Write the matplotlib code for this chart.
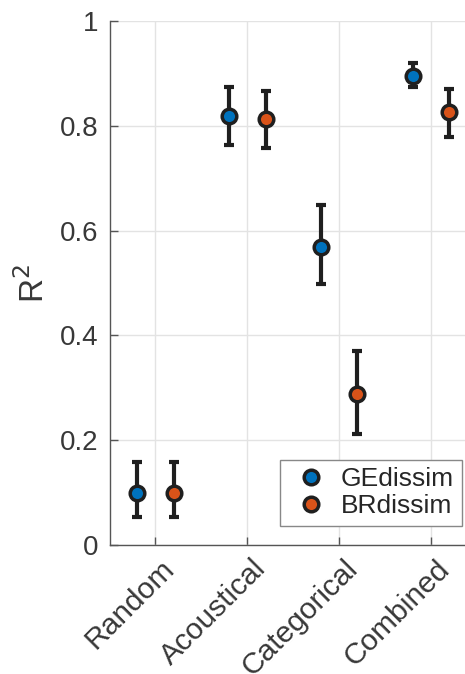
import matplotlib.pyplot as plt
import matplotlib.transforms as mtransforms
import numpy as np

plt.rcParams['font.family'] = ['Liberation Sans', 'DejaVu Sans']

categories = ['Random', 'Acoustical', 'Categorical', 'Combined']

ge_mean = [0.099, 0.819, 0.569, 0.896]
ge_low = [0.054, 0.763, 0.498, 0.874]
ge_high = [0.158, 0.875, 0.648, 0.920]

br_mean = [0.099, 0.813, 0.288, 0.826]
br_low = [0.054, 0.758, 0.212, 0.779]
br_high = [0.158, 0.867, 0.370, 0.871]

text_col = '#383838'
blue = '#0072BD'
orange = '#D95319'

fig = plt.figure(figsize=(4.65, 6.74), dpi=100)
ax = fig.add_axes([0.2355, 0.1914, 0.79, 0.7774])

x = np.arange(1, len(categories) + 1)
off = 0.2


def draw(xs, mean, low, high, color, label):
    mean = np.array(mean)
    yerr = [mean - np.array(low), np.array(high) - mean]
    ax.errorbar(xs, mean, yerr=yerr, fmt='none', ecolor='#1f1f1f',
                elinewidth=3, capsize=3.8, capthick=3, zorder=3)
    ax.plot(xs, mean, 'o', color=color, markersize=10.5,
            markeredgecolor='#1f1f1f', markeredgewidth=2.5, zorder=4,
            label=label, linestyle='none')


draw(x - off, ge_mean, ge_low, ge_high, blue, 'GEdissim')
draw(x + off, br_mean, br_low, br_high, orange, 'BRdissim')

ax.set_xlim(0.5, 4.5)
ax.set_ylim(0, 1)
ax.set_yticks([0, 0.2, 0.4, 0.6, 0.8, 1])
ax.set_yticklabels(['0', '0.2', '0.4', '0.6', '0.8', '1'])
ax.set_xticks(x)
ax.set_xticklabels(categories, rotation=45, ha='right', va='center',
                   rotation_mode='anchor', fontsize=21.5)
ax.tick_params(axis='both', direction='in', length=6, width=1,
               colors='#555555', labelcolor=text_col)
ax.tick_params(axis='y', pad=8, labelsize=20)
ax.tick_params(axis='x', pad=14)

# nudge the rotated labels to the right like the original
shift = mtransforms.ScaledTranslation(14 / 100, 0, fig.dpi_scale_trans)
for lbl in ax.get_xticklabels():
    lbl.set_transform(lbl.get_transform() + shift)

ax.grid(True, color='#e3e3e3', linewidth=1)
ax.set_axisbelow(True)
for s in ['top', 'right']:
    ax.spines[s].set_visible(False)
for s in ['left', 'bottom']:
    ax.spines[s].set_color('#555555')
    ax.spines[s].set_linewidth(1)

ax.set_ylabel('R$^2$', fontsize=24, color=text_col, labelpad=6)

handles, labels = ax.get_legend_handles_labels()
leg = fig.legend(handles, labels, loc='lower right',
                 bbox_to_anchor=(462 / 465, 1 - 526 / 674), fontsize=19,
                 fancybox=False, edgecolor='#888888', framealpha=1,
                 handletextpad=0.27, borderaxespad=0, handlelength=1.74,
                 labelspacing=0.1, borderpad=0.3)
leg.get_frame().set_linewidth(1)
for t in leg.get_texts():
    t.set_color('#262626')

fig.savefig('out.png', dpi=100)
